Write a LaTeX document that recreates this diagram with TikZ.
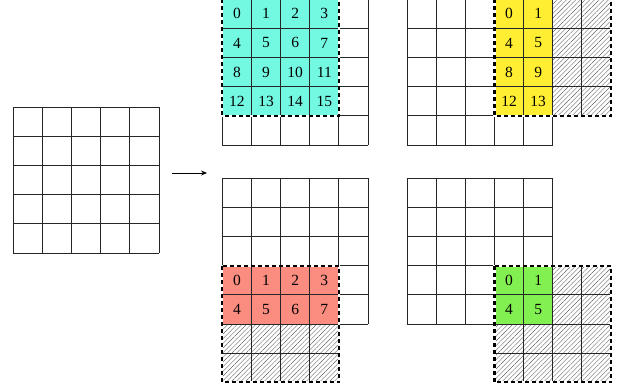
\documentclass[tikz,border=0pt]{standalone}
\usepackage{fontspec}
\setmainfont{Liberation Serif}
\usetikzlibrary{patterns.meta,arrows.meta}
\definecolor{cyanfill}{RGB}{115,248,226}
\definecolor{yellowfill}{RGB}{255,238,50}
\definecolor{redfill}{RGB}{250,140,128}
\definecolor{greenfill}{RGB}{130,240,80}
\newcommand{\cs}{29.15}
\tikzset{
  gridline/.style={draw=black!85, line width=0.9pt},
  outlinebase/.style={draw=white, line width=2.2pt},
  outline/.style={draw=black, line width=2.2pt, dash pattern=on 4pt off 3pt},
  hatch/.style={pattern={Lines[angle=45,distance=3.3pt,line width=0.4pt]}, pattern color=black!60},
  num/.style={font=\fontsize{15.5}{17}\selectfont, inner sep=0pt}
}
% grid: #1,#2 origin (top-left), #3 cols, #4 rows, #5 col offset, #6 row offset
\newcommand{\cellgrid}[6]{%
  \foreach \i in {0,...,#3}{\draw[gridline] ({#1+(#5+\i)*\cs},{#2+#6*\cs}) -- ({#1+(#5+\i)*\cs},{#2+(#6+#4)*\cs});}
  \foreach \j in {0,...,#4}{\draw[gridline] ({#1+#5*\cs},{#2+(#6+\j)*\cs}) -- ({#1+(#5+#3)*\cs},{#2+(#6+\j)*\cs});}
}
\newcommand{\outlinebox}[4]{%
  \draw[outlinebase] ({#1},{#2}) rectangle ({#3},{#4});
  \draw[outline] ({#1},{#2}) rectangle ({#3},{#4});
}
\begin{document}
\begin{tikzpicture}[x=1pt,y=-1pt]
\useasboundingbox (0,0) rectangle (623,389);
% left input grid
\cellgrid{13.3}{107.3}{5}{5}{0}{0}
\coordinate (arrS) at (172,173);
\coordinate (arrE) at (207,173);
\draw[line width=0.9pt,-{Stealth[length=6pt,width=5pt]}] (arrS) -- (arrE);

% top-left
\def\xo{222.3}\def\yo{-0.8}
\fill[cyanfill] (\xo,\yo) rectangle ({\xo+4*\cs},{\yo+4*\cs});
\cellgrid{\xo}{\yo}{5}{5}{0}{0}
\outlinebox{\xo}{\yo}{\xo+4*\cs}{\yo+4*\cs}
\foreach \r in {0,...,3}{\foreach \k in {0,...,3}{
  \pgfmathtruncatemacro{\n}{4*\r+\k}
  \node[num] (tl-\n) at ({\xo+(\k+0.5)*\cs},{\yo+(\r+0.5)*\cs}) {\n};}}

% top-right
\def\xo{407}\def\yo{-0.8}
\fill[yellowfill] ({\xo+3*\cs},\yo) rectangle ({\xo+5*\cs},{\yo+4*\cs});
\fill[hatch] ({\xo+5*\cs},\yo) rectangle ({\xo+7*\cs},{\yo+4*\cs});
\cellgrid{\xo}{\yo}{5}{5}{0}{0}
\cellgrid{\xo}{\yo}{4}{4}{3}{0}
\outlinebox{\xo+3*\cs}{\yo}{\xo+7*\cs}{\yo+4*\cs}
\foreach \r in {0,...,3}{\foreach \k in {0,1}{
  \pgfmathtruncatemacro{\n}{4*\r+\k}
  \node[num] (tr-\n) at ({\xo+(\k+3.5)*\cs},{\yo+(\r+0.5)*\cs}) {\n};}}

% bottom-left
\def\xo{222.3}\def\yo{178.3}
\fill[redfill] (\xo,{\yo+3*\cs}) rectangle ({\xo+4*\cs},{\yo+5*\cs});
\fill[hatch] (\xo,{\yo+5*\cs}) rectangle ({\xo+4*\cs},{\yo+7*\cs});
\cellgrid{\xo}{\yo}{5}{5}{0}{0}
\cellgrid{\xo}{\yo}{4}{4}{0}{3}
\outlinebox{\xo}{\yo+3*\cs}{\xo+4*\cs}{\yo+7*\cs}
\foreach \r in {0,1}{\foreach \k in {0,...,3}{
  \pgfmathtruncatemacro{\n}{4*\r+\k}
  \node[num] (bl-\n) at ({\xo+(\k+0.5)*\cs},{\yo+(\r+3.5)*\cs}) {\n};}}

% bottom-right
\def\xo{407}\def\yo{178.3}
\fill[greenfill] ({\xo+3*\cs},{\yo+3*\cs}) rectangle ({\xo+5*\cs},{\yo+5*\cs});
\fill[hatch] ({\xo+5*\cs},{\yo+3*\cs}) rectangle ({\xo+7*\cs},{\yo+7*\cs});
\fill[hatch] ({\xo+3*\cs},{\yo+5*\cs}) rectangle ({\xo+5*\cs},{\yo+7*\cs});
\cellgrid{\xo}{\yo}{5}{5}{0}{0}
\cellgrid{\xo}{\yo}{4}{4}{3}{3}
\outlinebox{\xo+3*\cs}{\yo+3*\cs}{\xo+7*\cs}{\yo+7*\cs}
\foreach \r in {0,1}{\foreach \k in {0,1}{
  \pgfmathtruncatemacro{\n}{4*\r+\k}
  \node[num] (br-\n) at ({\xo+(\k+3.5)*\cs},{\yo+(\r+3.5)*\cs}) {\n};}}
\end{tikzpicture}
\end{document}
